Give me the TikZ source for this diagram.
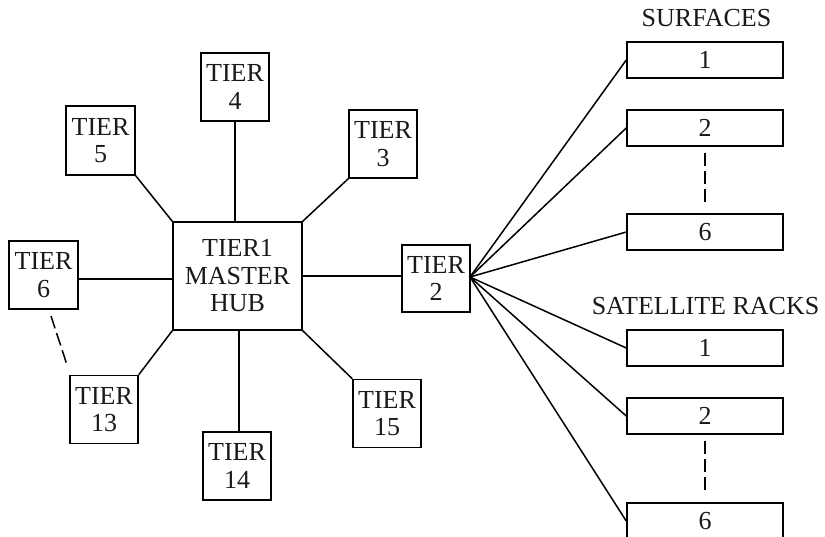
\documentclass[tikz,border=0pt]{standalone}
\usepackage{fontspec}
\setmainfont{Liberation Serif}
\begin{document}
\begin{tikzpicture}[x=1pt,y=-1pt,
  every node/.style={font=\fontsize{26}{27.5}\selectfont, text=black!90},
  tbox/.style={draw, line width=1.5pt, inner sep=0pt, minimum width=68pt, minimum height=68pt, align=center},
  rbox/.style={draw, line width=1.5pt, inner sep=0pt, minimum width=156pt, minimum height=36pt},
  conn/.style={line width=1.5pt},
  dconn/.style={line width=1.5pt, dash pattern=on 13pt off 5pt}]
\useasboundingbox (0,0) rectangle (825,537);
\clip (0,0) rectangle (825,537);
% tier boxes
\node[tbox] (t4) at (235,87) {TIER\\4};
\node[tbox, minimum width=69pt, minimum height=69pt] (t5) at (100.5,140.5) {TIER\\5};
\node[tbox] (t3) at (383,144) {TIER\\3};
\node[tbox, minimum width=69pt] (t6) at (43.5,275) {TIER\\6};
\node[tbox, minimum width=129pt, minimum height=108pt] (hub) at (237.5,276) {\raisebox{0pt}{TIER1}\\MASTER\\HUB};
\node[tbox, minimum height=67pt] (t2) at (436,278.5) {TIER\\2};
\node[tbox] (t13) at (104,409.5) {TIER\\13};
\node[tbox] (t14) at (237,466) {TIER\\14};
\node[tbox] (t15) at (387,413.5) {TIER\\15};
% right column
\node[anchor=base] (lsurf) at (706.5,27) {SURFACES};
\node[rbox] (s1) at (705,60) {1};
\node[rbox] (s2) at (705,128) {2};
\node[rbox] (s6) at (705,232) {6};
\node[anchor=base] (lsat) at (705.5,315) {SATELLITE RACKS};
\node[rbox] (r1) at (705,348) {1};
\node[rbox] (r2) at (705,416) {2};
\node[rbox] (r6) at (705,521) {6};
% connectors around hub
\draw[conn] (t5.south east) -- (hub.north west);
\draw[conn] (t4.south) -- (t4.south |- hub.north);
\draw[conn] (t3.south west) -- (hub.north east);
\draw[conn] ([yshift=-4pt]t6.east) -- ([yshift=-4pt]t6.east -| hub.west);
\draw[conn] (hub.east) -- (hub.east -| t2.west);
\draw[conn] (hub.south west) -- (t13.north east);
\draw[conn] ([xshift=2pt]t14.north) -- ([xshift=2pt]t14.north |- hub.south);
\draw[conn] (hub.south east) -- (t15.north west);
\coordinate (d1) at (51,316);
\coordinate (d2) at (67,365);
\draw[dconn] (d1) -- (d2);
% fan from tier 2
\coordinate (fan) at (470,277);
\foreach \b in {s1,s2,s6,r1,r2,r6}{
  \draw[conn] (fan) -- (\b.west);
}
\draw[dconn, shorten <=6pt, shorten >=9pt] (s2.south) -- (s6.north);
\draw[dconn, shorten <=6pt, shorten >=9pt] (r2.south) -- (r6.north);
\end{tikzpicture}
\end{document}
